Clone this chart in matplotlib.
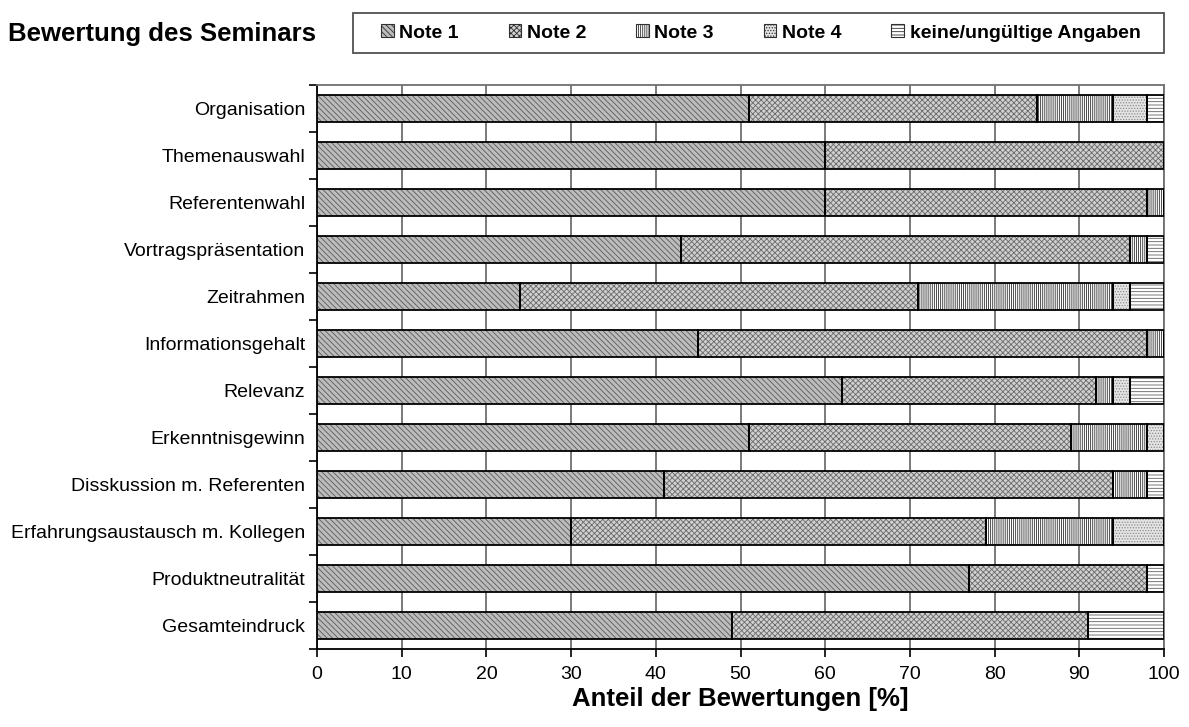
import numpy as np
import matplotlib
matplotlib.use("Agg")
import matplotlib.pyplot as plt
from matplotlib.patches import Patch, Rectangle

plt.rcParams['font.family'] = ['Liberation Sans', 'DejaVu Sans']
plt.rcParams['hatch.linewidth'] = 0.6

# data (percent of ratings)
categories = ['Organisation', 'Themenauswahl', 'Referentenwahl', 'Vortragspräsentation',
              'Zeitrahmen', 'Informationsgehalt', 'Relevanz', 'Erkenntnisgewinn',
              'Disskussion m. Referenten', 'Erfahrungsaustausch m. Kollegen',
              'Produktneutralität', 'Gesamteindruck']
note1 = [51, 60, 60, 43, 24, 45, 62, 51, 41, 30, 77, 49]
note2 = [34, 40, 38, 53, 47, 53, 30, 38, 53, 49, 21, 42]
note3 = [9, 0, 2, 2, 23, 2, 2, 9, 4, 15, 0, 0]
note4 = [4, 0, 0, 0, 2, 0, 2, 2, 0, 6, 0, 0]
keine = [2, 0, 0, 2, 4, 0, 4, 0, 2, 0, 2, 9]
series_labels = ['Note 1', 'Note 2', 'Note 3', 'Note 4', 'keine/ungültige Angaben']

# fill style per series: facecolor, hatch, hatch colour
styles = [('#bcbcbc', '\\\\\\\\\\\\', '#5a5a5a'),
          ('#d0d0d0', 'xxxxxx', '#6a6a6a'),
          ('white', '||||||||', '#303030'),
          ('#e4e4e4', '......', '#8a8a8a'),
          ('white', '-----', '#606060')]

fig = plt.figure(figsize=(11.89, 7.27), dpi=100)
ax = fig.add_axes([317 / 1189, 1 - 649 / 727, 847 / 1189, 564 / 727])

y = np.arange(len(categories))
left = np.zeros(len(categories))
handles = []
for vals, lab, (fc, hat, hc) in zip([note1, note2, note3, note4, keine], series_labels, styles):
    vals = np.array(vals, dtype=float)
    ax.barh(y, vals, left=left, height=0.57, color=fc, edgecolor=hc, hatch=hat,
            linewidth=0, zorder=3)
    ax.barh(y, vals, left=left, height=0.57, fill=False, edgecolor='black',
            linewidth=1.3, zorder=4)
    left += vals
    handles.append(Patch(facecolor=fc, edgecolor='#303030', hatch=hat, linewidth=0.8, label=lab))

ax.set_xlim(0, 100)
ax.set_ylim(11.5, -0.5)
ax.set_xticks(np.arange(0, 101, 10))
ax.set_yticks(y)
ax.set_yticklabels(categories)
ax.set_yticks(np.arange(-0.5, 12, 1), minor=True)
ax.tick_params(axis='y', which='major', length=0, pad=8.5, labelsize=14)
ax.tick_params(axis='y', which='minor', length=6, width=1.2, direction='out')
ax.tick_params(axis='x', length=6, width=1.2, direction='out', labelsize=14, pad=6)
ax.xaxis.grid(True, color='#707070', linewidth=1.3, zorder=0)
ax.set_axisbelow(True)

for s in ['left', 'bottom']:
    ax.spines[s].set_linewidth(1.3)
    ax.spines[s].set_color('black')
for s in ['top', 'right']:
    ax.spines[s].set_linewidth(1.3)
    ax.spines[s].set_color('#707070')

ax.set_xlabel('Anteil der Bewertungen [%]', fontsize=18.5, fontweight='bold', labelpad=3)

fig.text(8 / 1189, 1 - 34 / 727, 'Bewertung des Seminars', fontsize=18.5, fontweight='bold',
         ha='left', va='center')

# legend box drawn separately, entries placed inside it
fig.patches.append(Rectangle((353 / 1189, 1 - 53 / 727), 811 / 1189, 40 / 727,
                             transform=fig.transFigure, facecolor='white',
                             edgecolor='#505050', linewidth=1.3))
fig.legend(handles=handles, ncol=5, loc='center left',
           bbox_to_anchor=(381 / 1189, 1 - 33 / 727),
           prop={'weight': 'bold', 'size': 14}, frameon=False,
           handlelength=0.65, handleheight=0.65, handletextpad=0.3,
           columnspacing=2.55, borderpad=0, borderaxespad=0)

fig.savefig('out.png', dpi=100)
